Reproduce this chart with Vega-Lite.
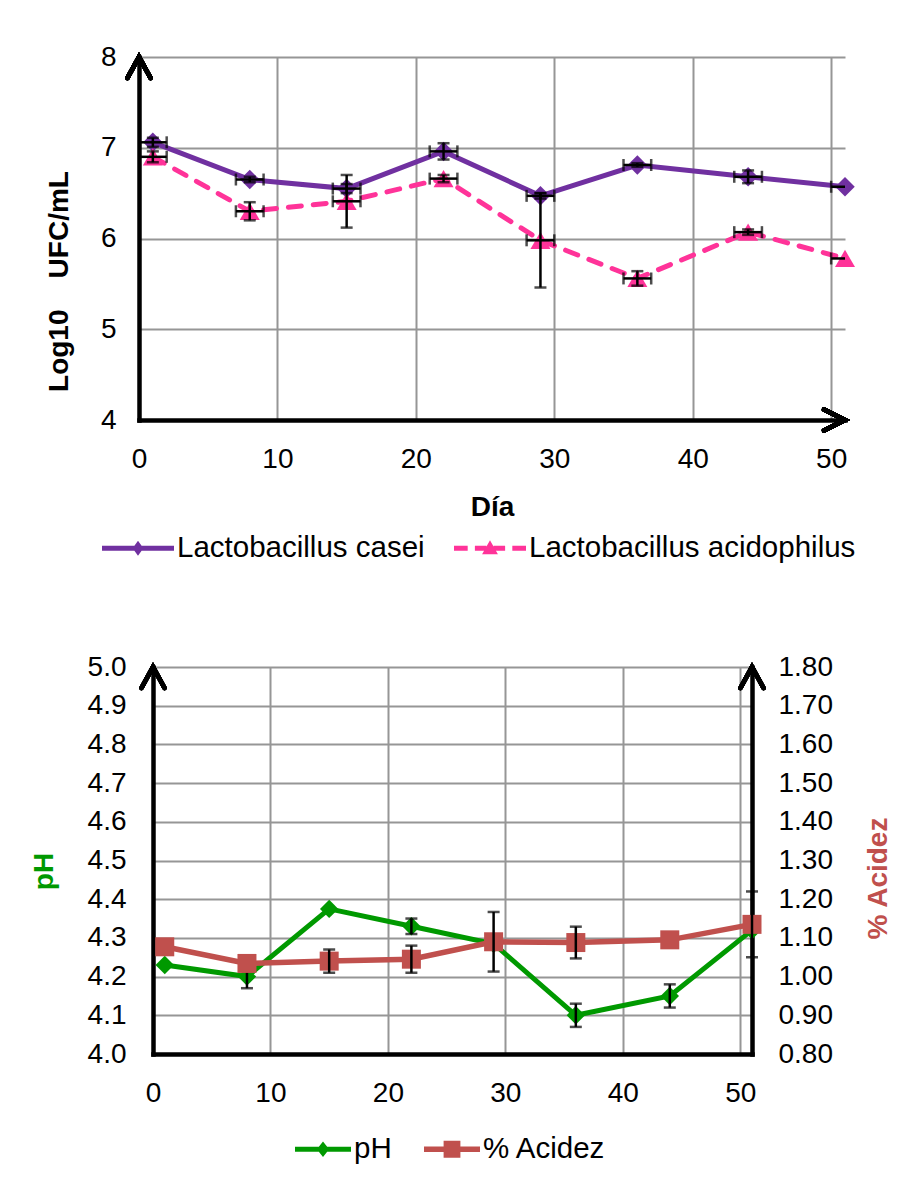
{
  "$schema": "https://vega.github.io/schema/vega-lite/v6.json",
  "background": "white",
  "padding": {"left": 30, "top": 43, "right": 0, "bottom": 0},
  "config": {
    "font": "Liberation Sans",
    "view": {"stroke": null},
    "axis": {
      "labelFont": "Liberation Sans",
      "labelFontSize": 28,
      "labelColor": "#000",
      "titleFont": "Liberation Sans",
      "titleFontSize": 28,
      "titleFontWeight": "bold",
      "titleColor": "#000",
      "ticks": false,
      "tickSize": 0,
      "domainColor": "#000",
      "domainWidth": 4.5,
      "domainCap": "square",
      "gridColor": "#969696",
      "gridWidth": 2,
      "gridOpacity": 1,
      "labelFlush": false,
      "labelOverlap": false
    },
    "legend": {
      "labelFont": "Liberation Sans",
      "labelFontSize": 29.5,
      "labelColor": "#000",
      "padding": 0
    }
  },
  "bounds": "full",
  "spacing": 90,
  "resolve": {
    "scale": {"x": "independent", "y": "independent", "color": "independent", "shape": "independent"},
    "legend": {"color": "independent", "shape": "independent"}
  },
  "vconcat": [
    {
      "width": 706,
      "height": 363,
      "data": {
        "values": [
          {"day": 1, "series": "Lactobacillus casei", "val": 7.06, "err": 0.05, "xerr": 1},
          {"day": 8, "series": "Lactobacillus casei", "val": 6.65, "err": 0.03, "xerr": 1},
          {"day": 15, "series": "Lactobacillus casei", "val": 6.55, "err": 0.05, "xerr": 1},
          {"day": 22, "series": "Lactobacillus casei", "val": 6.96, "err": 0.09, "xerr": 1},
          {"day": 29, "series": "Lactobacillus casei", "val": 6.47, "err": 0.03, "xerr": 1},
          {"day": 36, "series": "Lactobacillus casei", "val": 6.81, "err": 0.02, "xerr": 1},
          {"day": 44, "series": "Lactobacillus casei", "val": 6.68, "err": 0.07, "xerr": 1},
          {"day": 51, "series": "Lactobacillus casei", "val": 6.57, "err": 0, "xerr": 1},
          {"day": 1, "series": "Lactobacillus acidophilus", "val": 6.9, "err": 0.06, "xerr": 1},
          {"day": 8, "series": "Lactobacillus acidophilus", "val": 6.3, "err": 0.1, "xerr": 1},
          {"day": 15, "series": "Lactobacillus acidophilus", "val": 6.41, "err": 0.29, "xerr": 1},
          {"day": 22, "series": "Lactobacillus acidophilus", "val": 6.66, "err": 0.04, "xerr": 1},
          {"day": 29, "series": "Lactobacillus acidophilus", "val": 5.98, "err": 0.52, "xerr": 1},
          {"day": 36, "series": "Lactobacillus acidophilus", "val": 5.56, "err": 0.08, "xerr": 1},
          {"day": 44, "series": "Lactobacillus acidophilus", "val": 6.07, "err": 0.03, "xerr": 1},
          {"day": 51, "series": "Lactobacillus acidophilus", "val": 5.78, "err": 0, "xerr": 1}
        ]
      },
      "encoding": {
        "x": {
          "field": "day", "type": "quantitative", "title": "Día",
          "scale": {"domain": [0, 51], "nice": false},
          "axis": {
            "values": [0, 10, 20, 30, 40, 50], "format": "d", "grid": true,
            "labelBaseline": "alphabetic", "labelPadding": 47,
            "titleBaseline": "alphabetic", "titleY": 95
          }
        },
        "y": {
          "field": "val", "type": "quantitative",
          "title": "Log10\u00a0\u00a0\u00a0\u00a0UFC/mL",
          "scale": {"domain": [4, 8], "nice": false, "zero": false},
          "axis": {
            "values": [4, 5, 6, 7, 8], "format": "d", "grid": true,
            "labelPadding": 23,
            "titleAngle": -90, "titleBaseline": "alphabetic", "titleAlign": "center",
            "titleX": -72, "titleY": 224
          }
        }
      },
      "layer": [
        {
          "transform": [{"filter": "datum.series === 'Lactobacillus casei'"}],
          "mark": {"type": "line", "color": "#7030A0", "strokeWidth": 5}
        },
        {
          "transform": [{"filter": "datum.series === 'Lactobacillus acidophilus'"}],
          "mark": {"type": "line", "color": "#FF3399", "strokeWidth": 5, "strokeDash": [13, 12], "strokeCap": "round"}
        },
        {
          "transform": [{"filter": "datum.series === 'Lactobacillus casei'"}],
          "mark": {"type": "point", "shape": "diamond", "filled": true, "size": 380, "color": "#7030A0", "opacity": 1}
        },
        {
          "transform": [{"filter": "datum.series === 'Lactobacillus acidophilus'"}],
          "mark": {"type": "point", "shape": "triangle-up", "filled": true, "size": 400, "color": "#FF3399", "opacity": 1}
        },
        {
          "transform": [{"filter": "datum.err > 0"}],
          "mark": {"type": "errorbar", "ticks": {"size": 12}, "thickness": 2.5, "color": "#000"},
          "encoding": {"yError": {"field": "err"}}
        },
        {
          "transform": [{"filter": "datum.xerr > 0"}],
          "mark": {"type": "errorbar", "ticks": {"size": 12}, "thickness": 2.5, "color": "#000", "clip": true},
          "encoding": {"xError": {"field": "xerr"}}
        },
        {
          "mark": {"type": "point", "shape": "M-0.55,1L0,0L0.55,1", "size": 1764, "filled": false, "color": "#000", "strokeWidth": 4.5, "strokeCap": "round", "strokeJoin": "miter", "opacity": 1},
          "encoding": {"x": {"datum": 0}, "y": {"datum": 8}}
        },
        {
          "mark": {"type": "point", "shape": "M-1,-0.5L0,0L-1,0.5", "size": 1764, "filled": false, "color": "#000", "strokeWidth": 4.5, "strokeCap": "round", "strokeJoin": "miter", "opacity": 1},
          "encoding": {"x": {"datum": 51}, "y": {"datum": 4}}
        },
        {
          "transform": [{"filter": "datum.day > 100"}],
          "mark": {"type": "point", "filled": true, "opacity": 1},
          "encoding": {
            "color": {
              "field": "series", "type": "nominal",
              "scale": {"domain": ["Lactobacillus casei", "Lactobacillus acidophilus"], "range": ["#7030A0", "#FF3399"]},
              "legend": {
                "orient": "none", "legendX": -37, "legendY": 455, "direction": "horizontal",
                "title": null, "symbolSize": 5184, "symbolOpacity": 1, "symbolStrokeWidth": 0,
                "labelOffset": 3, "columnPadding": 29, "labelLimit": 0
              }
            },
            "shape": {
              "field": "series", "type": "nominal",
              "scale": {
                "domain": ["Lactobacillus casei", "Lactobacillus acidophilus"],
                "range": [
                  "M-1,-0.07L1,-0.07L1,0.07L-1,0.07Z M0,-0.21L0.15,0L0,0.21L-0.15,0Z",
                  "M-1,-0.07L-0.62,-0.07L-0.62,0.07L-1,0.07Z M-0.42,-0.07L-0.1,-0.07L-0.1,0.07L-0.42,0.07Z M0.1,-0.07L0.42,-0.07L0.42,0.07L0.1,0.07Z M0.62,-0.07L1,-0.07L1,0.07L0.62,0.07Z M0,-0.22L0.22,0.17L-0.22,0.17Z"
                ]
              }
            }
          }
        }
      ]
    },
    {
      "width": 613,
      "height": 387,
      "data": {
        "values": [
          {"day": 1, "series": "pH", "val": 4.23, "err": 0},
          {"day": 8, "series": "pH", "val": 4.2, "err": 0.03},
          {"day": 15, "series": "pH", "val": 4.375, "err": 0},
          {"day": 22, "series": "pH", "val": 4.33, "err": 0.02},
          {"day": 29, "series": "pH", "val": 4.285, "err": 0},
          {"day": 36, "series": "pH", "val": 4.1, "err": 0.03},
          {"day": 44, "series": "pH", "val": 4.15, "err": 0.03},
          {"day": 51, "series": "pH", "val": 4.32, "err": 0},
          {"day": 1, "series": "% Acidez", "val": 1.077, "err": 0},
          {"day": 8, "series": "% Acidez", "val": 1.034, "err": 0},
          {"day": 15, "series": "% Acidez", "val": 1.04, "err": 0.03},
          {"day": 22, "series": "% Acidez", "val": 1.045, "err": 0.035},
          {"day": 29, "series": "% Acidez", "val": 1.09, "err": 0.077},
          {"day": 36, "series": "% Acidez", "val": 1.088, "err": 0.041},
          {"day": 44, "series": "% Acidez", "val": 1.095, "err": 0},
          {"day": 51, "series": "% Acidez", "val": 1.135, "err": 0.085}
        ]
      },
      "encoding": {
        "x": {
          "field": "day", "type": "quantitative", "title": null,
          "scale": {"domain": [0, 51], "range": [14, 613], "nice": false},
          "axis": {
            "values": [0, 10, 20, 30, 40, 50], "format": "d", "grid": true,
            "labelBaseline": "alphabetic", "labelPadding": 47
          }
        }
      },
      "resolve": {"scale": {"y": "independent"}},
      "layer": [
        {
          "transform": [{"filter": "datum.series === 'pH'"}],
          "encoding": {
            "y": {
              "field": "val", "type": "quantitative", "title": "pH",
              "scale": {"domain": [4, 5], "nice": false, "zero": false},
              "axis": {
                "orient": "left", "offset": -14,
                "values": [4, 4.1, 4.2, 4.3, 4.4, 4.5, 4.6, 4.7, 4.8, 4.9, 5],
                "format": ".1f", "grid": true, "titleColor": "#009900",
                "labelPadding": 27,
                "titleAngle": -90, "titleBaseline": "alphabetic", "titleAlign": "center",
                "titleX": -101, "titleY": 204
              }
            }
          },
          "layer": [
            {
              "mark": {"type": "line", "color": "#009900", "strokeWidth": 5}
            },
            {
              "mark": {"type": "point", "shape": "diamond", "filled": true, "size": 340, "color": "#009900", "opacity": 1}
            },
            {
              "transform": [{"filter": "datum.err > 0"}],
              "mark": {"type": "errorbar", "ticks": {"size": 12}, "thickness": 2.5, "color": "#000"},
              "encoding": {"yError": {"field": "err"}}
            },
            {
              "mark": {"type": "point", "shape": "M-0.55,1L0,0L0.55,1", "size": 1764, "filled": false, "color": "#000", "strokeWidth": 4.5, "strokeCap": "round", "strokeJoin": "miter", "opacity": 1},
              "encoding": {"x": {"datum": 0}, "y": {"datum": 5}}
            },
            {
              "transform": [{"filter": "datum.day > 100"}],
              "mark": {"type": "point", "filled": true, "opacity": 1},
              "encoding": {
                "color": {
                  "field": "series", "type": "nominal",
                  "scale": {"domain": ["pH", "% Acidez"], "range": ["#009900", "#C0504D"]},
                  "legend": {
                    "orient": "none", "legendX": 156, "legendY": 454, "direction": "horizontal",
                    "title": null, "symbolSize": 3136, "symbolOpacity": 1, "symbolStrokeWidth": 0,
                    "labelOffset": 3, "columnPadding": 32, "labelLimit": 0
                  }
                },
                "shape": {
                  "field": "series", "type": "nominal",
                  "scale": {
                    "domain": ["pH", "% Acidez"],
                    "range": [
                      "M-1,-0.09L1,-0.09L1,0.09L-1,0.09Z M0,-0.28L0.22,0L0,0.28L-0.22,0Z",
                      "M-1,-0.1L1,-0.1L1,0.1L-1,0.1Z M-0.3,-0.3L0.3,-0.3L0.3,0.3L-0.3,0.3Z"
                    ]
                  }
                }
              }
            }
          ]
        },
        {
          "transform": [{"filter": "datum.series === '% Acidez'"}],
          "encoding": {
            "y": {
              "field": "val", "type": "quantitative", "title": "% Acidez",
              "scale": {"domain": [0.8, 1.8], "nice": false, "zero": false},
              "axis": {
                "orient": "right",
                "values": [0.8, 0.9, 1.0, 1.1, 1.2, 1.3, 1.4, 1.5, 1.6, 1.7, 1.8],
                "format": ".2f", "grid": false, "titleColor": "#C0504D",
                "labelPadding": 26,
                "titleAngle": -90, "titleBaseline": "alphabetic", "titleAlign": "center",
                "titleX": 134, "titleY": 211
              }
            }
          },
          "layer": [
            {
              "mark": {"type": "line", "color": "#C0504D", "strokeWidth": 5.5}
            },
            {
              "mark": {"type": "point", "shape": "square", "filled": true, "size": 361, "color": "#C0504D", "opacity": 1}
            },
            {
              "transform": [{"filter": "datum.err > 0"}],
              "mark": {"type": "errorbar", "ticks": {"size": 12}, "thickness": 2.5, "color": "#000"},
              "encoding": {"yError": {"field": "err"}}
            },
            {
              "mark": {"type": "point", "shape": "M-0.55,1L0,0L0.55,1", "size": 1764, "filled": false, "color": "#000", "strokeWidth": 4.5, "strokeCap": "round", "strokeJoin": "miter", "opacity": 1},
              "encoding": {"x": {"datum": 51}, "y": {"datum": 1.8}}
            }
          ]
        }
      ]
    }
  ]
}
